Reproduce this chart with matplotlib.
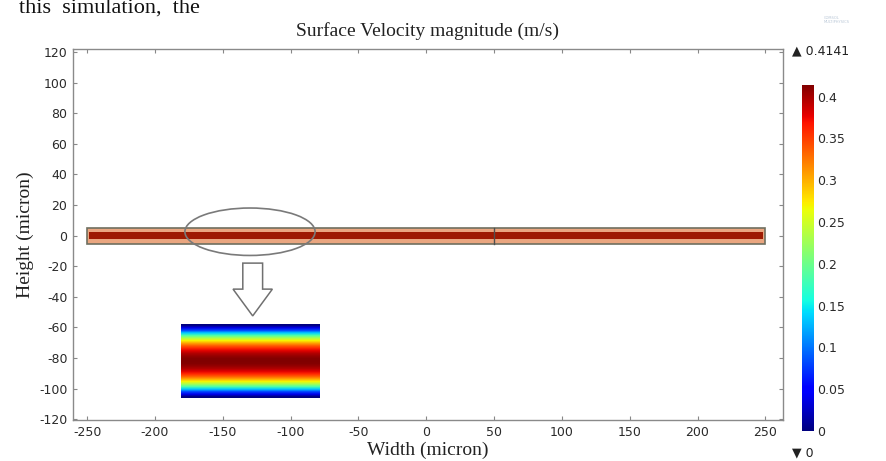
import numpy as np
import matplotlib
matplotlib.use("Agg")
import matplotlib.pyplot as plt
from matplotlib.patches import Rectangle, Ellipse, Polygon
from matplotlib.colors import Normalize

# ---------------- data ----------------
title = "Surface Velocity magnitude (m/s)"
x_ticks = [-250, -200, -150, -100, -50, 0, 50, 100, 150, 200, 250]
y_ticks = [-120, -100, -80, -60, -40, -20, 0, 20, 40, 60, 80, 100, 120]
cbar_ticks = [0, 0.05, 0.1, 0.15, 0.2, 0.25, 0.3, 0.35, 0.4]
v_min, v_max = 0.0, 0.4141

channel_x = [-250, 250]          # micron
channel_y = [-5.5, 5]            # micron
channel_core_y = [-2.5, 2.2]     # dark core seen in main view
channel_joint_x = 50             # internal boundary line

# velocity profile across the zoomed inset (top -> bottom), m/s
inset_velocity = [0.000, 0.040, 0.080, 0.135, 0.185, 0.230, 0.270, 0.305,
                  0.335, 0.360, 0.380, 0.395, 0.405, 0.411, 0.414, 0.411,
                  0.405, 0.395, 0.380, 0.360, 0.335, 0.305, 0.270, 0.230,
                  0.185, 0.135, 0.080, 0.040, 0.000]
inset_x = [-181, -79]
inset_y = [-106, -58]

ellipse_center = (-130, 2.5)
ellipse_size = (96, 31)
arrow_x = -128
arrow_y = [-18, -35, -52.5]      # top of stem, start of head, tip
arrow_half_widths = [7.3, 14.5]  # stem, head

# ---------------- figure ----------------
fig = plt.figure(figsize=(8.86, 4.61), dpi=100)
ax = fig.add_axes([0.0824, 0.089, 0.8013, 0.805])

cmap = plt.get_cmap("jet")
norm = Normalize(vmin=v_min, vmax=v_max)

# main channel
ax.add_patch(Rectangle((channel_x[0], channel_y[0]), channel_x[1] - channel_x[0],
                       channel_y[1] - channel_y[0], facecolor="#eaa680",
                       edgecolor="#6f6f60", lw=1.2, zorder=3))
ax.add_patch(Rectangle((channel_x[0] + 1.5, channel_core_y[0]), channel_x[1] - channel_x[0] - 3,
                       channel_core_y[1] - channel_core_y[0], facecolor="#9e1a02",
                       edgecolor="none", zorder=4))
ax.plot([channel_joint_x, channel_joint_x], channel_y, color="#505050", lw=1.0, zorder=5)

# zoomed inset
prof = np.array(inset_velocity)[:, None]
ax.imshow(np.repeat(prof, 2, axis=1), cmap=cmap, norm=norm, aspect="auto",
          extent=[inset_x[0], inset_x[1], inset_y[0], inset_y[1]],
          interpolation="bilinear", origin="upper", zorder=3)

# ellipse highlight
ax.add_patch(Ellipse(ellipse_center, ellipse_size[0], ellipse_size[1], fill=False,
                     edgecolor="#7a7a7a", lw=1.2, zorder=6))

# hollow arrow
sw, hw = arrow_half_widths
pts = [(arrow_x - sw, arrow_y[0]), (arrow_x + sw, arrow_y[0]), (arrow_x + sw, arrow_y[1]),
       (arrow_x + hw, arrow_y[1]), (arrow_x, arrow_y[2]), (arrow_x - hw, arrow_y[1]),
       (arrow_x - sw, arrow_y[1])]
ax.add_patch(Polygon(pts, closed=True, facecolor="white", edgecolor="#707070", lw=1.1, zorder=6))

ax.set_xlim(-260.5, 263)
ax.set_ylim(-120.5, 122)
ax.set_xticks(x_ticks)
ax.set_yticks(y_ticks)
ax.set_xticklabels([str(t) for t in x_ticks])
ax.set_yticklabels([str(t) for t in y_ticks])
ax.tick_params(direction="in", length=3, width=0.8, color="#888888", top=True, right=True,
               labelsize=9, labelcolor="#2a2a2a", pad=4)
for s in ax.spines.values():
    s.set_color("#8a8a8a")
    s.set_linewidth(1.0)

serif = ["Liberation Serif", "DejaVu Serif"]
ax.set_title(title, family=serif, fontsize=14, color="#222222", pad=9)
ax.set_xlabel("Width (micron)", family=serif, fontsize=14, color="#222222", labelpad=2)
ax.set_ylabel("Height (micron)", family=serif, fontsize=14, color="#222222", labelpad=4)

# colorbar
cax = fig.add_axes([0.905, 0.065, 0.0125, 0.751])
grad = np.linspace(v_min, v_max, 256)[:, None]
cax.imshow(grad, cmap=cmap, norm=norm, aspect="auto", origin="lower",
           extent=[0, 1, v_min, v_max])
cax.set_xlim(0, 1)
cax.set_ylim(v_min, v_max)
cax.set_xticks([])
cax.yaxis.tick_right()
cax.set_yticks(cbar_ticks)
cax.set_yticklabels([f"{t:g}" for t in cbar_ticks])
cax.tick_params(axis="y", length=0, labelsize=9, labelcolor="#2a2a2a", pad=3)
for s in cax.spines.values():
    s.set_visible(False)

fig.text(0.894, 1 - 51 / 461, "\u25B2 " + f"{v_max:.4f}", fontsize=9, color="#222222",
         va="center", ha="left")
fig.text(0.894, 1 - 453 / 461, "\u25BC " + f"{v_min:g}", fontsize=9, color="#222222",
         va="center", ha="left")

# cropped document text and faint logo
fig.text(0.022, 1 - 13 / 461, "this  simulation,  the", family=serif, fontsize=16,
         color="#111111", va="baseline", ha="left")
fig.text(0.93, 1 - 20 / 461, "COMSOL\nMULTIPHYSICS", fontsize=2.6, color="#b8c6d6",
         va="center", ha="left", linespacing=1.0)

fig.savefig("out.png", dpi=100)
